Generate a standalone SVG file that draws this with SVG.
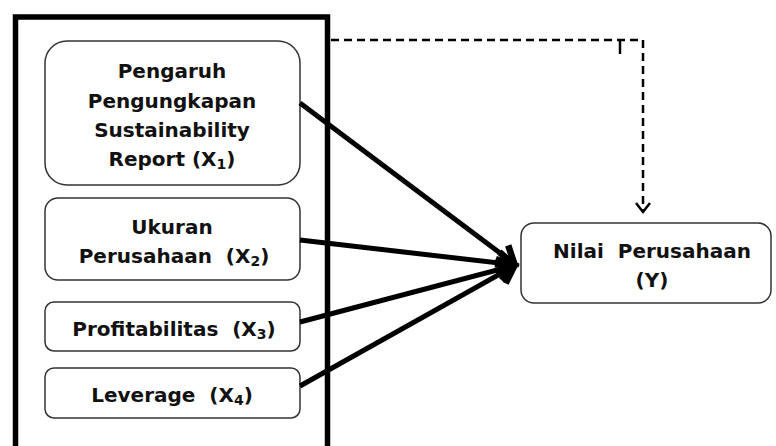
<svg xmlns="http://www.w3.org/2000/svg" width="776" height="446" viewBox="0 0 776 446">
<defs>
<style>
.node{fill:#fff;stroke:#333;stroke-width:1.5}
.t{font-family:"DejaVu Sans",Verdana,sans-serif;font-weight:bold;font-size:20px;fill:#111;text-anchor:middle}
.sub{font-size:14px}
.main{stroke:#000;stroke-width:5;fill:none}
.dash{stroke:#000;stroke-width:2.5;fill:none;stroke-dasharray:8,5}
</style>
<marker id="big" markerUnits="userSpaceOnUse" markerWidth="40" markerHeight="40" viewBox="-25 -20 40 40" refX="0" refY="0" orient="auto">
<path d="M-18,-11 L-2,0 L-18,11" fill="none" stroke="#000" stroke-width="6.5" stroke-linejoin="miter"/>
</marker>
<marker id="open" markerUnits="userSpaceOnUse" markerWidth="20" markerHeight="20" viewBox="-12 -10 20 20" refX="0" refY="0" orient="auto">
<path d="M-9,-7 L0,0 L-9,7" fill="none" stroke="#000" stroke-width="2.5"/>
</marker>
</defs>
<rect x="0" y="0" width="776" height="446" fill="#fff"/>
<g id="outer">
<rect x="15.5" y="17" width="312" height="440" fill="none" stroke="#000" stroke-width="5.5"/>
</g>
<g id="x1">
<rect class="node" x="45" y="41" width="255" height="144" rx="22"/>
<text class="t" x="172" y="78">Pengaruh</text>
<text class="t" x="172" y="108">Pengungkapan</text>
<text class="t" x="172" y="137">Sustainability</text>
<text class="t" x="172" y="166">Report (X<tspan class="sub" dy="3">1</tspan><tspan dy="-3">)</tspan></text>
</g>
<g id="x2">
<rect class="node" x="45" y="198" width="255" height="82" rx="13"/>
<text class="t" x="172" y="234">Ukuran</text>
<text class="t" x="174" y="263" xml:space="preserve">Perusahaan  (X<tspan class="sub" dy="3">2</tspan><tspan dy="-3">)</tspan></text>
</g>
<g id="x3">
<rect class="node" x="45" y="302" width="255" height="49" rx="9"/>
<text class="t" x="174" y="336" xml:space="preserve">Profitabilitas  (X<tspan class="sub" dy="3">3</tspan><tspan dy="-3">)</tspan></text>
</g>
<g id="x4">
<rect class="node" x="45" y="368" width="255" height="50" rx="9"/>
<text class="t" x="172" y="402" xml:space="preserve">Leverage  (X<tspan class="sub" dy="3">4</tspan><tspan dy="-3">)</tspan></text>
</g>
<g id="y">
<rect class="node" x="521" y="223" width="250" height="80" rx="13"/>
<text class="t" x="652" y="258" xml:space="preserve">Nilai  Perusahaan</text>
<text class="t" x="652" y="287">(Y)</text>
</g>
<g id="connectors">
<line class="main" x1="300" y1="103" x2="516" y2="265" marker-end="url(#big)"/>
<line class="main" x1="300" y1="240" x2="516" y2="265" marker-end="url(#big)"/>
<line class="main" x1="300" y1="322" x2="516" y2="265" marker-end="url(#big)"/>
<line class="main" x1="300" y1="386" x2="516" y2="265" marker-end="url(#big)"/>
<path class="dash" d="M331,40 H643 V212" marker-end="url(#open)"/>
<line x1="620" y1="40" x2="620" y2="54" stroke="#000" stroke-width="2.5"/>
</g>
</svg>
